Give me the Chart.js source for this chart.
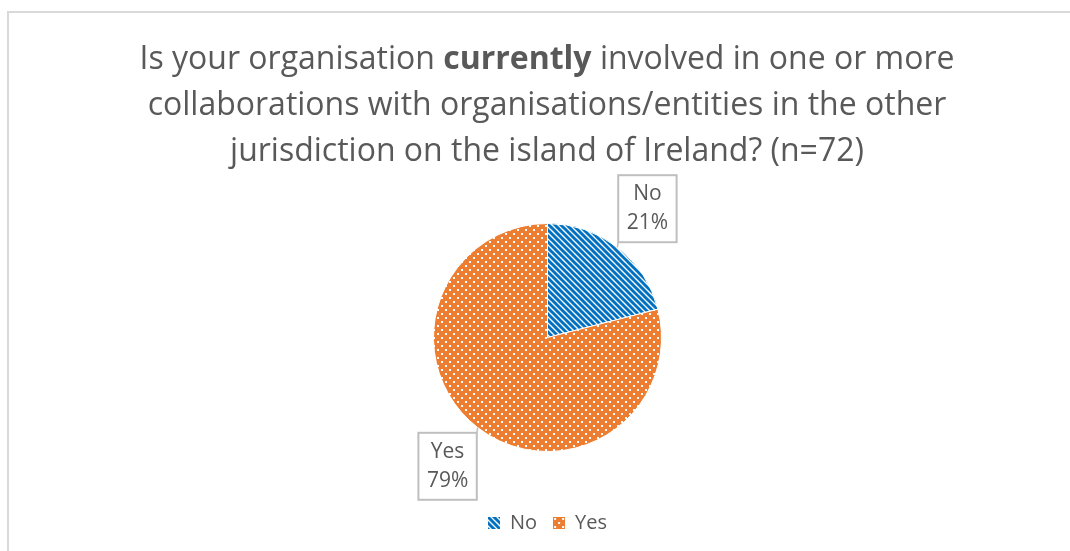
<!DOCTYPE html>
<html>
<head>
<meta charset="utf-8">
<script src="https://cdn.jsdelivr.net/npm/chart.js@4.4.0/dist/chart.umd.min.js"></script>
<style>
    html, body { margin: 0; padding: 0; background: #fff; overflow: hidden; }
    #wrap { position: relative; width: 1070px; height: 551px; }
    #frame {
        position: absolute; left: 7px; top: 11px; width: 1200px; height: 700px;
        border-left: 2px solid #d9d9d9; border-top: 2px solid #d9d9d9;
    }
    #title {
        position: absolute; left: 24px; top: 34px; width: 1046px;
        text-align: center; font-family: "Open Sans", sans-serif; font-size: 32px;
        line-height: 46px; color: #595959;
    }
    #chart { position: absolute; left: 0; top: 0; }
</style>
</head>
<body>
<div id="wrap">
    <div id="frame"></div>
    <canvas id="chart" width="1070" height="551"></canvas>
    <div id="title">Is your organisation <b>currently</b> involved in one or more<br>collaborations with organisations/entities in the other<br>jurisdiction on the island of Ireland? (n=72)</div>
</div>
<script>
(function () {
    const labels = ['No', 'Yes'];
    const values = [21, 79];
    const colors = ['#0070c0', '#ed7d31'];

    const textColor = '#595959';
    const fontFamily = '"Open Sans", sans-serif';

    // stripes for "No", white dots for "Yes"
    const makeTile = (kind, size) => {
        const c = document.createElement('canvas');
        c.width = size;
        c.height = size;
        const ctx = c.getContext('2d');
        if (kind === 'stripes') {
            ctx.fillStyle = '#ffffff';
            ctx.fillRect(0, 0, size, size);
            ctx.strokeStyle = colors[0];
            ctx.lineWidth = 3;
            for (let k = -3; k <= 3; k++) {
                ctx.beginPath();
                ctx.moveTo(-8 + k * 6, -8);
                ctx.lineTo(size + 8 + k * 6, size + 8);
                ctx.stroke();
            }
        } else {
            ctx.fillStyle = colors[1];
            ctx.fillRect(0, 0, size, size);
            ctx.fillStyle = '#ffffff';
            for (let y = 0; y < size; y += 8) {
                for (let x = 0; x < size; x += 8) {
                    ctx.fillRect(x + 1, y + 1, 2, 2);
                    ctx.fillRect(x + 5, y + 5, 2, 2);
                }
            }
        }
        return c;
    };

    const patternFor = (kind, size) => {
        const tile = makeTile(kind, size);
        return document.createElement('canvas').getContext('2d').createPattern(tile, 'repeat');
    };

    const fills = [patternFor('stripes', 12), patternFor('dots', 8)];
    const swatches = [makeTile('stripes', 12), makeTile('dots', 12)];

    const calloutPlugin = {
        id: 'callouts',
        afterDatasetsDraw(chart) {
            const ctx = chart.ctx;
            const meta = chart.getDatasetMeta(0);
            const total = values.reduce((a, b) => a + b, 0);
            ctx.save();
            ctx.font = '21px ' + fontFamily;
            meta.data.forEach((arc, i) => {
                const p = arc.getProps(['x', 'y', 'startAngle', 'endAngle', 'outerRadius'], true);
                const mid = (p.startAngle + p.endAngle) / 2;
                const cos = Math.cos(mid);
                const sin = Math.sin(mid);
                const ex = p.x + cos * p.outerRadius;
                const ey = p.y + sin * p.outerRadius;
                const cx = p.x + cos * (p.outerRadius + 49);
                const cy = p.y + sin * (p.outerRadius + 49);
                const lines = [labels[i], Math.round(values[i] / total * 100) + '%'];
                const w = Math.max(...lines.map(t => ctx.measureText(t).width)) + 17;
                const h = 67;

                // leader line to nearest corner
                const kx = cx - Math.sign(cos) * w / 2;
                const ky = cy - Math.sign(sin) * h / 2;
                ctx.strokeStyle = '#bfbfbf';
                ctx.lineWidth = 1.5;
                ctx.beginPath();
                ctx.moveTo(ex, ey);
                ctx.lineTo(kx, ky);
                ctx.stroke();

                ctx.fillStyle = '#ffffff';
                ctx.fillRect(cx - w / 2, cy - h / 2, w, h);
                ctx.lineWidth = 2;
                ctx.strokeRect(cx - w / 2, cy - h / 2, w, h);

                ctx.fillStyle = textColor;
                ctx.textAlign = 'center';
                ctx.textBaseline = 'middle';
                ctx.fillText(lines[0], cx, cy - 14.5);
                ctx.fillText(lines[1], cx, cy + 14.5);
            });
            ctx.restore();
        },
    };

    const buildChart = () => {
        new Chart(document.getElementById('chart'), {
            type: 'pie',
            data: {
                labels: labels,
                datasets: [
                    {
                        data: values,
                        backgroundColor: fills,
                        borderColor: '#ffffff',
                        borderWidth: 1,
                    },
                ],
            },
            options: {
                responsive: false,
                animation: false,
                layout: {
                    padding: { left: 433, right: 408, top: 178, bottom: 8 },
                },
                plugins: {
                    tooltip: { enabled: false },
                    legend: {
                        position: 'bottom',
                        labels: {
                            usePointStyle: true,
                            boxWidth: 12,
                            boxHeight: 12,
                            pointStyleWidth: 12,
                            padding: 16,
                            color: textColor,
                            font: { family: fontFamily, size: 20 },
                            generateLabels(chart) {
                                const items = Chart.overrides.pie.plugins.legend.labels.generateLabels(chart);
                                items.forEach((item, i) => {
                                    item.pointStyle = swatches[i];
                                    item.strokeStyle = 'rgba(0,0,0,0)';
                                    item.lineWidth = 0;
                                });
                                return items;
                            },
                        },
                    },
                },
            },
            plugins: [calloutPlugin],
        });
    };

    buildChart();
})();
</script>
</body>
</html>
